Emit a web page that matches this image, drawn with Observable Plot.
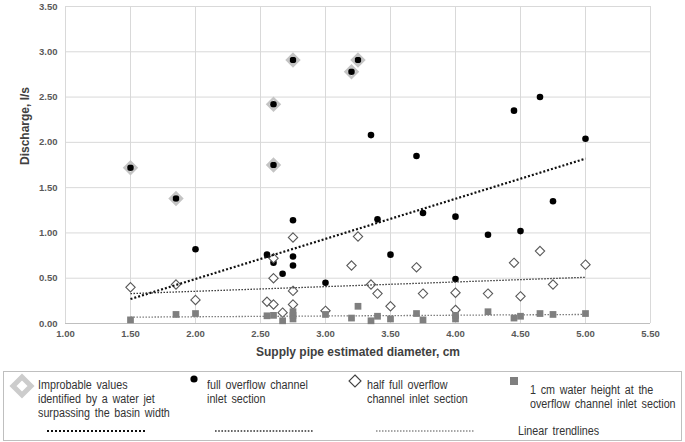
<!DOCTYPE html>
<html>
<head>
<meta charset="utf-8">
<script src="https://cdn.jsdelivr.net/npm/d3@7"></script>
<script src="https://cdn.jsdelivr.net/npm/@observablehq/plot@0.6"></script>
<style>
  body { margin: 0; background: white; }
  #chart svg { display: block; }
  #legend { position: relative; width: 685px; height: 80px; font-family: "Liberation Sans Narrow", "Liberation Sans", Arial, sans-serif; font-size: 12.5px; color: #333; }
  #legend .t { position: absolute; line-height: 14px; white-space: nowrap; word-spacing: 2px; transform: scaleX(0.86); transform-origin: 0 0; }
</style>
</head>
<body>
<div id="chart"></div>
<div id="legend">
  <div style="position:absolute;left:3px;top:9px;width:677px;height:68px;border:1.5px solid #bfbfbf;"></div>
  <svg id="lsym" width="685" height="80" style="position:absolute;left:0;top:0;"></svg>
  <div class="t" style="left:38px;top:16px;">Improbable values<br>identified by a water jet<br>surpassing the basin width</div>
  <div class="t" style="left:207px;top:16px;">full overflow channel<br>inlet section</div>
  <div class="t" style="left:367px;top:16px;">half full overflow<br>channel inlet section</div>
  <div class="t" style="left:530px;top:21px;">1 cm water height at the<br>overflow channel inlet section</div>
  <div class="t" style="left:518px;top:62px;">Linear trendlines</div>
</div>
<script>
// Tick values
const xTicks = [1.0, 1.5, 2.0, 2.5, 3.0, 3.5, 4.0, 4.5, 5.0, 5.5];
const yTicks = [0.0, 0.5, 1.0, 1.5, 2.0, 2.5, 3.0, 3.5];

// Improbable values (water jet surpassing basin width)
const improbX = [1.50, 1.85, 2.60, 2.60, 2.75, 3.20, 3.25];
const improbY = [1.72, 1.38, 2.42, 1.75, 2.91, 2.78, 2.91];

// Full overflow channel inlet section
const fullX = [1.50, 1.85, 2.60, 2.60, 2.75, 3.20, 3.25,
               2.00, 2.55, 2.60, 2.67, 2.75, 2.75, 2.75, 3.00, 3.35, 3.40, 3.50, 3.70,
               3.75, 4.00, 4.00, 4.25, 4.45, 4.50, 4.65, 4.75, 5.00];
const fullY = [1.72, 1.38, 2.42, 1.75, 2.91, 2.78, 2.91,
               0.82, 0.76, 0.67, 0.55, 1.14, 0.74, 0.64, 0.45, 2.08, 1.15, 0.76, 1.85,
               1.22, 1.18, 0.49, 0.98, 2.35, 1.02, 2.50, 1.35, 2.04];

// Half full overflow channel inlet section
const halfX = [1.50, 1.85, 2.00, 2.55, 2.60, 2.60, 2.60, 2.67, 2.75, 2.75, 2.75, 3.00,
               3.20, 3.25, 3.35, 3.40, 3.50, 3.70, 3.75, 4.00, 4.00, 4.25, 4.45, 4.50,
               4.65, 4.75, 5.00];
const halfY = [0.40, 0.43, 0.26, 0.24, 0.72, 0.50, 0.21, 0.12, 0.95, 0.36, 0.21, 0.14,
               0.64, 0.96, 0.43, 0.33, 0.19, 0.62, 0.33, 0.34, 0.15, 0.33, 0.67, 0.30,
               0.80, 0.43, 0.65];

// 1 cm water height at the overflow channel inlet section
const sqX = [1.50, 1.85, 2.00, 2.55, 2.60, 2.67, 2.75, 2.75, 2.75, 3.00, 3.20, 3.25,
             3.35, 3.40, 3.50, 3.70, 3.75, 4.00, 4.00, 4.25, 4.45, 4.50, 4.65, 4.75, 5.00];
const sqY = [0.04, 0.10, 0.11, 0.085, 0.09, 0.03, 0.05, 0.09, 0.13, 0.10, 0.06, 0.19,
             0.03, 0.08, 0.05, 0.11, 0.04, 0.05, 0.09, 0.13, 0.06, 0.08, 0.11, 0.10, 0.11];

// Linear trendlines (end points)
const trendX = [1.50, 5.00];
const trendFullY = [0.27, 1.82];
const trendHalfY = [0.33, 0.51];
const trendSqY = [0.07, 0.10];

const xTitle = "Supply pipe estimated diameter, cm";
const yTitle = "Discharge, l/s";

const zip = (xs, ys) => xs.map((x, i) => ({x, y: ys[i]}));
const improb = zip(improbX, improbY);
const full = zip(fullX, fullY);
const half = zip(halfX, halfY);
const sq = zip(sqX, sqY);
const tFull = zip(trendX, trendFullY);
const tHalf = zip(trendX, trendHalfY);
const tSq = zip(trendX, trendSqY);
const fmt = d3.format(".2f");

const chart = Plot.plot({
  width: 685,
  height: 362,
  marginTop: 6,
  marginBottom: 39,
  marginLeft: 65,
  marginRight: 35,
  x: {domain: [1, 5.5]},
  y: {domain: [0, 3.5]},
  style: {fontFamily: "'Liberation Sans', Arial, sans-serif", fontSize: "9.5px", fontWeight: "bold", color: "#595959", background: "white"},
  marks: [
    Plot.gridX(xTicks, {stroke: "#d9d9d9", strokeOpacity: 1, strokeWidth: 1}),
    Plot.gridY(yTicks, {stroke: "#d9d9d9", strokeOpacity: 1, strokeWidth: 1}),
    Plot.ruleY([0], {stroke: "#bfbfbf", strokeWidth: 1.2}),
    Plot.axisX(xTicks, {tickFormat: fmt, tickSize: 0, tickPadding: 7, label: null, fill: "#595959"}),
    Plot.axisY(yTicks, {tickFormat: fmt, tickSize: 0, tickPadding: 8, label: null, fill: "#595959"}),
    Plot.dot(improb, {x: "x", y: "y", symbol: "diamond2", r: 5.3, stroke: "#c4c4c4", strokeWidth: 2.6, fill: "white"}),
    Plot.dot(full, {x: "x", y: "y", r: 3.3, fill: "black", stroke: "none"}),
    Plot.dot(half, {x: "x", y: "y", symbol: "diamond2", r: 4.2, stroke: "#595959", strokeWidth: 1.1, fill: "white"}),
    Plot.dot(sq, {x: "x", y: "y", symbol: "square", r: 3.8, fill: "#7f7f7f", stroke: "none"}),
    Plot.line(tFull, {x: "x", y: "y", stroke: "#111", strokeWidth: 2.2, strokeDasharray: "2,2", strokeLinecap: "butt"}),
    Plot.line(tHalf, {x: "x", y: "y", stroke: "#333", strokeWidth: 1.3, strokeDasharray: "1.5,1.5", strokeLinecap: "butt"}),
    Plot.line(tSq, {x: "x", y: "y", stroke: "#7f7f7f", strokeWidth: 1.3, strokeDasharray: "1.5,1.5", strokeLinecap: "butt"}),
    Plot.text([xTitle], {frameAnchor: "bottom", dy: 32, fontSize: 12, fontWeight: "bold", fill: "#404040"}),
    Plot.text([yTitle], {frameAnchor: "left", rotate: -90, dx: -40, fontSize: 12, fontWeight: "bold", fill: "#404040"})
  ]
});
document.getElementById("chart").appendChild(chart);

// Legend symbols
const ls = d3.select("#lsym");
ls.append("path").attr("d", "M22,15 L31,24 L22,33 L13,24 Z").attr("fill", "white").attr("stroke", "#cccccc").attr("stroke-width", 5);
ls.append("circle").attr("cx", 194).attr("cy", 17).attr("r", 3.6).attr("fill", "black");
ls.append("path").attr("d", "M355,13 L361,19 L355,25 L349,19 Z").attr("fill", "white").attr("stroke", "#404040").attr("stroke-width", 1.1);
ls.append("rect").attr("x", 510).attr("y", 15).attr("width", 8).attr("height", 8).attr("fill", "#7f7f7f");
ls.append("line").attr("x1", 47).attr("x2", 145).attr("y1", 69).attr("y2", 69).attr("stroke", "#111").attr("stroke-width", 2).attr("stroke-dasharray", "2,2");
ls.append("line").attr("x1", 215).attr("x2", 313).attr("y1", 69).attr("y2", 69).attr("stroke", "#333").attr("stroke-width", 1.6).attr("stroke-dasharray", "1.6,1.6");
ls.append("line").attr("x1", 376).attr("x2", 474).attr("y1", 69).attr("y2", 69).attr("stroke", "#8a8a8a").attr("stroke-width", 1.3).attr("stroke-dasharray", "1.5,1.5");
</script>
</body>
</html>
